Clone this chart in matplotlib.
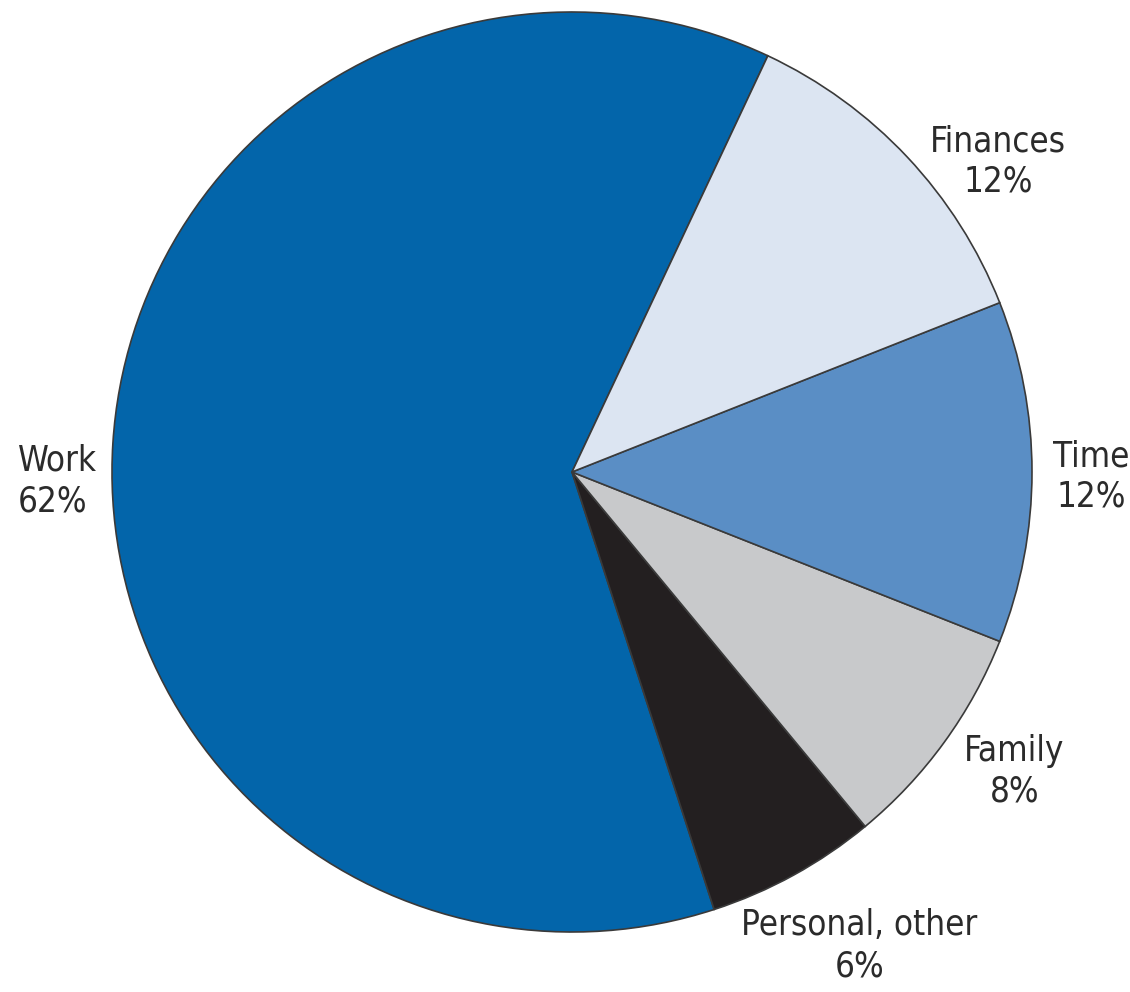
import matplotlib.pyplot as plt

labels = ["Work", "Personal, other", "Family", "Time", "Finances"]
values = [62, 6, 8, 12, 12]
colors = ["#0365AA", "#231F20", "#C8C9CB", "#5A8EC5", "#DCE5F2"]

# label anchor positions (data units, pie radius = 1)
label_pos = {
    "Work": (-1.205, -0.02, "left"),
    "Personal, other": (0.625, -1.03, "center"),
    "Family": (0.962, -0.65, "center"),
    "Time": (1.128, -0.01, "center"),
    "Finances": (0.926, 0.675, "center"),
}

fig = plt.figure(figsize=(11.3, 9.92), dpi=100)
ax = fig.add_axes([0, 0, 1, 1])

ax.pie(values, colors=colors, startangle=64.8, counterclock=True,
       wedgeprops=dict(edgecolor="#3a3a3a", linewidth=1.2))

scale = 460.0
ax.set_xlim(-572 / scale, (1130 - 572) / scale)
ax.set_ylim(-520 / scale, 472 / scale)
ax.set_aspect("auto")
ax.axis("off")

for name, v in zip(labels, values):
    x, y, ha = label_pos[name]
    ax.text(x, y, f"{name}\n{v}%", ha=ha, va="center", fontsize=25,
            fontstretch="condensed", color="#2b2b2b", linespacing=1.25,
            family="DejaVu Sans")

fig.savefig("out.png", dpi=100)
